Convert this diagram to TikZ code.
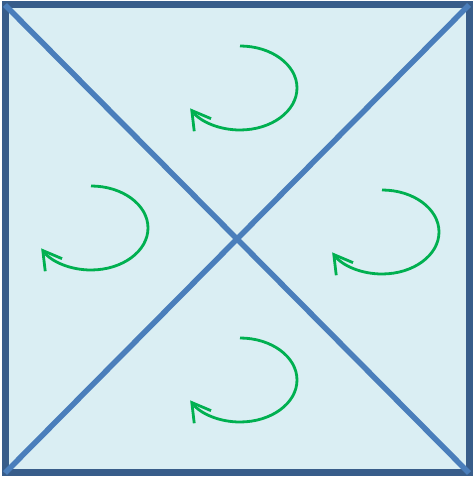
\documentclass[tikz,border=0pt]{standalone}
\usepackage{tikz}
\usetikzlibrary{arrows.meta}
\definecolor{frameblue}{HTML}{385D8A}
\definecolor{lineblue}{HTML}{4A7EBB}
\definecolor{paleblue}{HTML}{DAEEF3}
\definecolor{turngreen}{HTML}{00B050}
\begin{document}
\begin{tikzpicture}[x=1pt,y=1pt,
    turn/.style={turngreen,line width=2.8pt,-{Straight Barb[length=18pt,width=21pt]}}]
        % page size 474 x 479
        \useasboundingbox (0,0) rectangle (474,479);

        \coordinate (A) at (5,6);
        \coordinate (B) at (5,474);
        \coordinate (C) at (469,474);
        \coordinate (D) at (469,6);

        \draw[frameblue,line width=7pt,fill=paleblue] (A) -- (B) -- (C) -- (D) -- cycle;
        \draw[lineblue,line width=5.5pt] (A) -- (C);
        \draw[lineblue,line width=5.5pt] (B) -- (D); % diagonals

        % rotation arrows: centre of each arc
        \foreach \cx/\cy in {240/391, 91/251, 382/247, 240/99}
            \draw[turn] (\cx,\cy+42) arc[start angle=90,end angle=-151,x radius=57,y radius=42];
    \end{tikzpicture}
\end{document}
